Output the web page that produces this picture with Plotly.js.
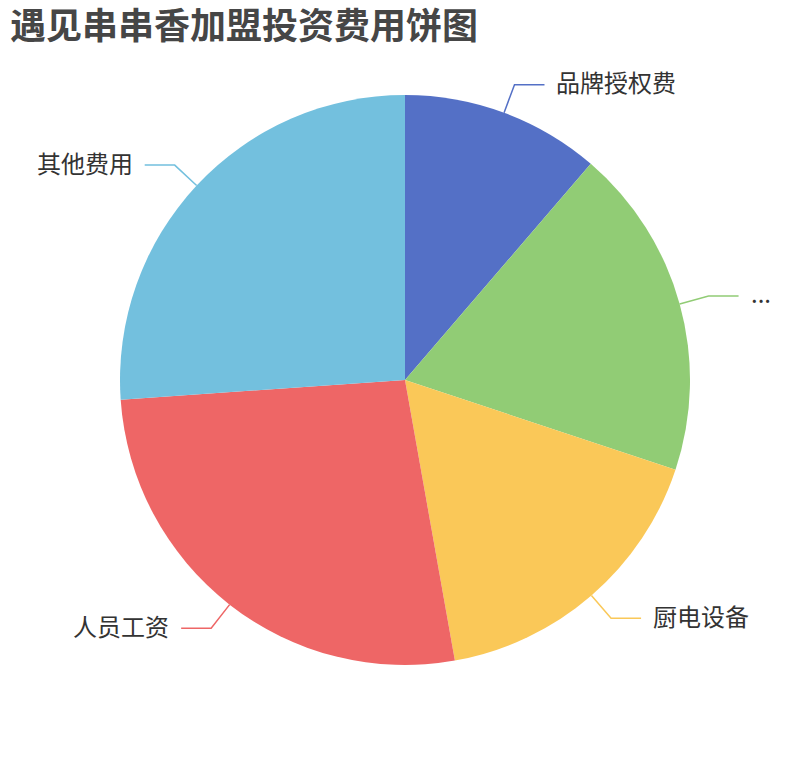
<!DOCTYPE html>
<html>
<head>
<meta charset="utf-8">
<script src="https://cdn.plot.ly/plotly-3.0.1.min.js"></script>
<style>
  html, body { margin: 0; padding: 0; background: #fff; }
  #chart { width: 810px; height: 760px; }
</style>
</head>
<body>
<div id="chart"></div>
<script>
// slice data, clockwise from 12 o'clock (share in %)
const labels = ['品牌授权费', '...', '厨电设备', '人员工资', '其他费用'];
const values = [11.3, 18.8, 17.1, 26.7, 26.1];
const colors = ['#5470c6', '#91cc75', '#fac858', '#ee6666', '#73c0de'];

const W = 810, H = 760;
const cx = 405, cy = 380, R = 285;
const len1 = 30, len2 = 30, gap = 10;

const px = x => x / W;
const py = y => 1 - y / H;

// leader lines + labels follow each slice's mid angle
let total = values.reduce((a, b) => a + b, 0);
let acc = 0;
let shapes = [], annotations = [];
values.forEach((v, i) => {
    let mid = (acc + v / 2) / total * 2 * Math.PI;
    acc += v;
    let s = Math.sin(mid), c = Math.cos(mid);
    let x0 = cx + R * s, y0 = cy - R * c;
    let x1 = cx + (R + len1) * s, y1 = cy - (R + len1) * c;
    let dir = s >= 0 ? 1 : -1;
    let x2 = x1 + dir * len2;
    shapes.push({
        type: 'path', xref: 'paper', yref: 'paper',
        path: `M${px(x0)},${py(y0)} L${px(x1)},${py(y1)} L${px(x2)},${py(y1)}`,
        line: { color: colors[i], width: 1.5 }
    });
    annotations.push({
        xref: 'paper', yref: 'paper',
        x: px(x2 + dir * gap), y: py(y1 - 3),
        xanchor: dir > 0 ? 'left' : 'right', yanchor: 'middle',
        text: labels[i], showarrow: false,
        font: { size: 24, color: '#333', family: '"Noto Sans CJK SC", sans-serif' }
    });
});

const trace = {
    type: 'pie',
    labels: labels,
    values: values,
    sort: false,
    direction: 'clockwise',
    rotation: 0,
    marker: { colors: colors, line: { width: 0 } },
    textinfo: 'none',
    hoverinfo: 'none',
    showlegend: false,
    domain: { x: [px(cx - R), px(cx + R)], y: [py(cy + R), py(cy - R)] }
};

const layout = {
    width: W, height: H,
    margin: { l: 0, r: 0, t: 0, b: 0 },
    paper_bgcolor: '#fff',
    title: {
        text: '遇见串串香加盟投资费用饼图',
        x: px(10), xanchor: 'left', xref: 'paper',
        y: py(26), yanchor: 'middle', yref: 'paper',
        font: { size: 36, color: '#464646', weight: 'bold', family: '"Noto Sans CJK SC", sans-serif' }
    },
    shapes: shapes,
    annotations: annotations
};

Plotly.newPlot('chart', [trace], layout, { displayModeBar: false, staticPlot: true });
</script>
</body>
</html>
